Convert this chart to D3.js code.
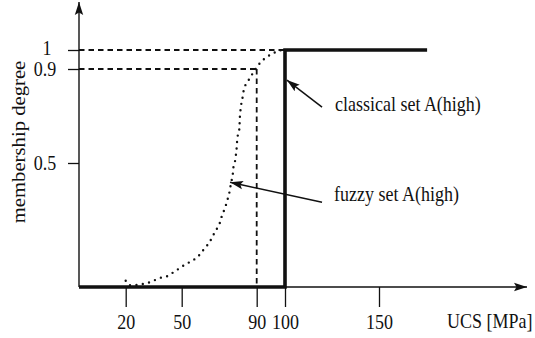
<!DOCTYPE html>
<html>
<head>
<meta charset="utf-8">
<script src="https://cdn.jsdelivr.net/npm/d3@7"></script>
<style>
  body { margin: 0; background: #fff; }
  text { font-family: "Liberation Serif", "Times New Roman", serif; fill: #111; }
</style>
</head>
<body>
<div id="chart"></div>
<script>
// values (UCS in MPa, membership 0..1)
var xTicks = [20, 50, 90, 100, 150];
var yTicks = [0.5, 0.9, 1];
var xTitle = "UCS [MPa]";
var yTitle = "membership degree";

// classical (crisp) set: 0 below 100 MPa, 1 from 100 MPa
var crispX = [0, 100, 100, 176];
var crispY = [0, 0, 1, 1];

// fuzzy set, sampled along the dotted curve
var fuzzyX = [20, 21.9, 25.4, 28.9, 32.1, 35.7, 39.0, 42.3, 45.5, 48.7, 52.1, 55.7, 58.9, 61.5,
              63.7, 66.0, 67.9, 69.9, 71.0, 72.2, 73.6, 74.5, 75.4, 76.3, 77.2, 77.5, 78.4, 78.9,
              79.3, 79.8, 80.7, 81.0, 81.7, 82.4, 83.6, 85.5, 87.3, 89.1, 90.6, 92.0, 93.7, 95.5, 97.6, 100];
var fuzzyY = [0.025, 0.008, 0.008, 0.012, 0.017, 0.028, 0.038, 0.044, 0.059, 0.075, 0.092, 0.106, 0.125, 0.149,
              0.169, 0.196, 0.225, 0.249, 0.277, 0.301, 0.331, 0.354, 0.380, 0.418, 0.452, 0.479, 0.506, 0.534,
              0.563, 0.612, 0.643, 0.693, 0.747, 0.776, 0.825, 0.850, 0.874, 0.896, 0.921, 0.944, 0.965, 0.979, 0.996, 1];

// the 0.9 cut of the fuzzy set
var cutX = 90, cutY = 0.9;

var noteLabels = ["classical set A(high)", "fuzzy set A(high)"];
var noteTip = [[101, 0.853], [75.8, 0.422]];
var noteTail = [[119.7, 0.738], [119.7, 0.342]];
var noteText = [[126.6, 0.721], [126.1, 0.347]];

var W = 535, H = 338;
var ink = "#111";
var stretch = 1.15; // the scan is a bit taller than wide

var svg = d3.select("#chart").append("svg")
    .attr("width", W)
    .attr("height", H);

// the drawing is schematic, not to scale, so the scales are piecewise
var x = d3.scaleLinear()
    .domain([0, 20, 50, 90, 100, 150, 230])
    .range([79, 125.7, 181.7, 256.7, 285, 379, 527]);
var y = d3.scaleLinear()
    .domain([0, 0.5, 0.9, 1, 1.2])
    .range([287, 163, 69, 50, 2]);

var defs = svg.append("defs");
defs.append("marker")
    .attr("id", "head")
    .attr("markerUnits", "userSpaceOnUse")
    .attr("viewBox", "0 -5 14 10")
    .attr("refX", 13).attr("refY", 0)
    .attr("markerWidth", 14).attr("markerHeight", 10)
    .attr("orient", "auto")
  .append("path")
    .attr("d", "M0,-4.2L13,0L0,4.2L2.5,0Z")
    .attr("fill", ink);

// dashed guide lines
var guides = [
    [[0, 1], [100, 1]],
    [[0, cutY], [cutX, cutY]],
    [[cutX, cutY], [cutX, 0]]
];
svg.selectAll(".guide")
    .data(guides)
    .enter().append("line")
    .attr("class", "guide")
    .attr("x1", function (d) { return x(d[0][0]); })
    .attr("y1", function (d) { return y(d[0][1]); })
    .attr("x2", function (d) { return x(d[1][0]); })
    .attr("y2", function (d) { return y(d[1][1]); })
    .attr("stroke", ink)
    .attr("stroke-width", 1.8)
    .attr("stroke-dasharray", "5.5 4");

// axes
var xAxis = svg.append("g")
    .attr("transform", "translate(0," + y(0) + ")")
    .call(d3.axisBottom(x).tickValues(xTicks).tickSize(20).tickFormat(d3.format("d")));
var yAxis = svg.append("g")
    .attr("transform", "translate(" + x(0) + ",0)")
    .call(d3.axisLeft(y).tickValues(yTicks).tickSize(11)
        .tickFormat(function (d) { return d === 1 ? "1" : d3.format(".1f")(d); }));

[xAxis, yAxis].forEach(function (g) {
    g.attr("font-family", null).attr("font-size", null).attr("color", ink);
    g.select(".domain").remove();
    g.selectAll(".tick line").attr("stroke-width", 1.3);
    g.selectAll(".tick text").attr("font-size", 18);
});
xAxis.selectAll(".tick text")
    .attr("y", 0).attr("dy", null)
    .attr("transform", "translate(0,42) scale(1," + stretch + ")");
yAxis.selectAll(".tick text")
    .attr("x", 0).attr("dy", null)
    .attr("text-anchor", "middle")
    .attr("transform", function (d) {
        return "translate(" + (d === 1 ? -32 : -34) + "," + (d === 1 ? 4 : 6) + ") scale(1," + stretch + ")";
    });

// axis lines with arrow heads
svg.append("line")
    .attr("x1", x(0)).attr("y1", y(0))
    .attr("x2", x(230)).attr("y2", y(0))
    .attr("stroke", ink).attr("stroke-width", 1.4)
    .attr("marker-end", "url(#head)");
svg.append("line")
    .attr("x1", x(0)).attr("y1", y(0))
    .attr("x2", x(0)).attr("y2", y(1.2))
    .attr("stroke", ink).attr("stroke-width", 1.4)
    .attr("marker-end", "url(#head)");

// fuzzy set, dotted
var fuzzy = d3.zip(fuzzyX, fuzzyY);
svg.append("path")
    .datum(fuzzy)
    .attr("d", d3.line()
        .x(function (d) { return x(d[0]); })
        .y(function (d) { return y(d[1]); })
        .curve(d3.curveCatmullRom))
    .attr("fill", "none")
    .attr("stroke", ink)
    .attr("stroke-width", 2.4)
    .attr("stroke-linecap", "round")
    .attr("stroke-dasharray", "0 6.4");

// classical set, thick
svg.append("path")
    .datum(d3.zip(crispX, crispY))
    .attr("d", d3.line()
        .x(function (d) { return x(d[0]); })
        .y(function (d) { return y(d[1]); }))
    .attr("fill", "none")
    .attr("stroke", ink)
    .attr("stroke-width", 3.6)
    .attr("stroke-linejoin", "miter");

// annotations
noteLabels.forEach(function (label, i) {
    svg.append("line")
        .attr("x1", x(noteTail[i][0])).attr("y1", y(noteTail[i][1]))
        .attr("x2", x(noteTip[i][0])).attr("y2", y(noteTip[i][1]))
        .attr("stroke", ink).attr("stroke-width", 1.5)
        .attr("marker-end", "url(#head)");
    svg.append("text")
        .attr("transform", "translate(" + x(noteText[i][0]) + "," + y(noteText[i][1]) + ") scale(1," + stretch + ")")
        .attr("font-size", 18)
        .text(label);
});

// axis titles
svg.append("text")
    .attr("transform", "translate(447,328) scale(1," + stretch + ")")
    .attr("font-size", 18)
    .text(xTitle);
svg.append("text")
    .attr("transform", "translate(25,142) rotate(-90) scale(" + stretch + ",1)")
    .attr("text-anchor", "middle")
    .attr("font-size", 18)
    .text(yTitle);
</script>
</body>
</html>
